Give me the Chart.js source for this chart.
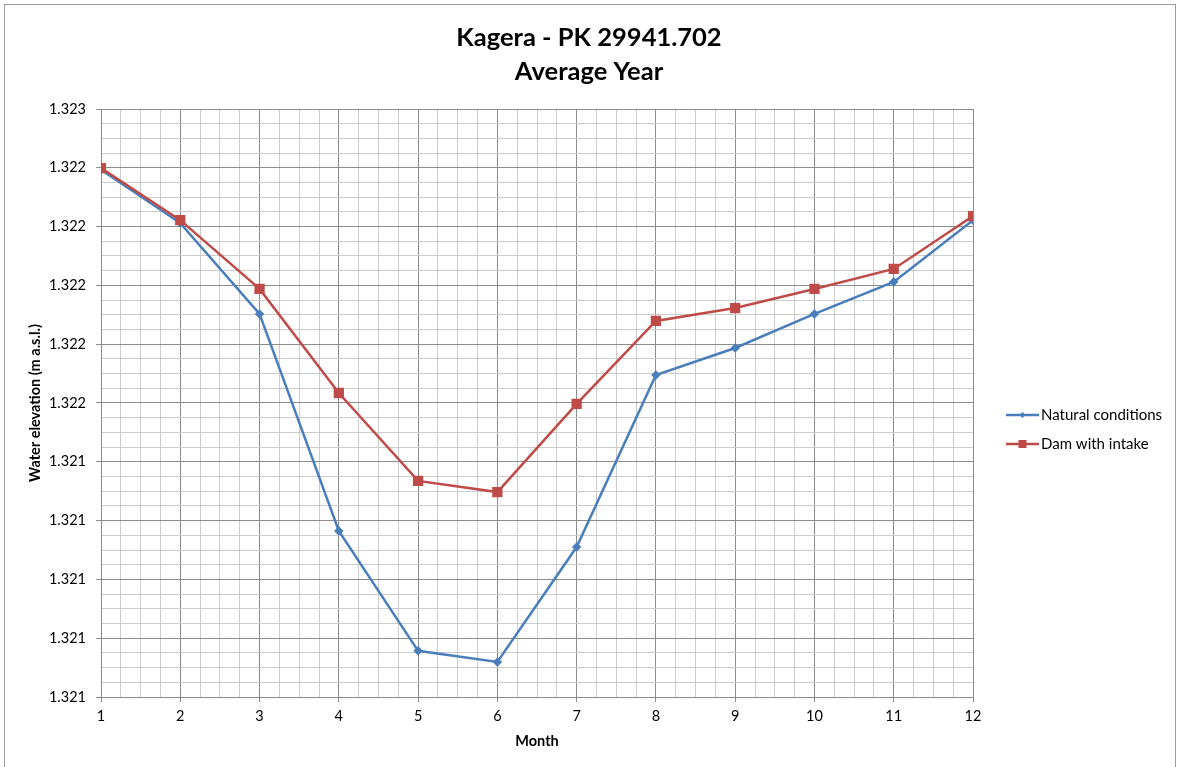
<!DOCTYPE html>
<html>
<head>
<meta charset="utf-8">
<title>Kagera - PK 29941.702</title>
<script src="https://cdn.jsdelivr.net/npm/chart.js@4.4.1/dist/chart.umd.min.js"></script>
<style>
  html, body { margin: 0; padding: 0; background: #fff; }
  #wrap { width: 1178px; height: 767px; }
</style>
</head>
<body>
<div id="wrap"><canvas id="chart" width="1178" height="767"></canvas></div>
<script>
const months = [1, 2, 3, 4, 5, 6, 7, 8, 9, 10, 11, 12];
const naturalConditions = [1.322393, 1.322212, 1.321903, 1.321165, 1.320757, 1.320719, 1.32111, 1.321695, 1.321787, 1.321903, 1.322012, 1.322222];
const damWithIntake = [1.322399, 1.322222, 1.321988, 1.321634, 1.321335, 1.321297, 1.321597, 1.321879, 1.321923, 1.321988, 1.322056, 1.322236];
const yMajorTicks = [1.3206, 1.3208, 1.321, 1.3212, 1.3214, 1.3216, 1.3218, 1.322, 1.3222, 1.3224, 1.3226];
const seriesNames = ["Natural conditions", "Dam with intake"];

const FONT = "Lato, 'Open Sans', sans-serif";
const majorGrid = "#8c8c8c";
const minorGrid = "#cccccc";

// 4 sub-divisions between each pair of major ticks (like Excel minor gridlines)
const subdivide = (majors) => {
  const out = [];
  for (let i = 0; i < majors.length - 1; i++) {
    const step = (majors[i + 1] - majors[i]) / 4;
    for (let k = 0; k < 4; k++) out.push(Math.round((majors[i] + k * step) * 1e7) / 1e7);
  }
  out.push(majors[majors.length - 1]);
  return out;
};

const gridColor = (ctx) => (ctx.index % 4 === 0 ? majorGrid : minorGrid);
const tickColor = (ctx) => (ctx.index % 4 === 0 ? majorGrid : "rgba(0,0,0,0)");

const chartFrame = {
  id: "chartFrame",
  beforeDraw(chart) {
    const ctx = chart.ctx;
    ctx.save();
    ctx.fillStyle = "#fff";
    ctx.fillRect(0, 0, chart.width, chart.height);
    ctx.strokeStyle = "#9a9a9a";
    ctx.lineWidth = 1;
    ctx.strokeRect(4.5, 4.5, 1171, 800);
    ctx.restore();
  },
};

const sideLegend = {
  id: "sideLegend",
  afterDraw(chart) {
    const ctx = chart.ctx;
    const rows = [415, 444];
    ctx.save();
    chart.data.datasets.forEach((ds, i) => {
      const y = rows[i];
      ctx.strokeStyle = ds.borderColor;
      ctx.lineWidth = 2.5;
      ctx.beginPath();
      ctx.moveTo(1006, y);
      ctx.lineTo(1039, y);
      ctx.stroke();
      ctx.fillStyle = ds.borderColor;
      if (ds.pointStyle === "rect") {
        ctx.fillRect(1022.5 - 4, y - 4, 8, 8);
      } else {
        ctx.beginPath();
        ctx.moveTo(1022.5, y - 3);
        ctx.lineTo(1025.5, y);
        ctx.lineTo(1022.5, y + 3);
        ctx.lineTo(1019.5, y);
        ctx.closePath();
        ctx.fill();
      }
      ctx.fillStyle = "#000";
      ctx.font = "15px " + FONT;
      ctx.textBaseline = "middle";
      ctx.textAlign = "left";
      ctx.fillText(ds.label, 1041, y);
    });
    ctx.restore();
  },
};

const ctx = document.getElementById("chart").getContext("2d");
new Chart(ctx, {
  type: "line",
  data: {
    datasets: [
      {
        label: seriesNames[0],
        data: months.map((m, i) => ({ x: m, y: naturalConditions[i] })),
        borderColor: "#4a7ebb",
        backgroundColor: "#4a7ebb",
        borderWidth: 2.5,
        pointStyle: "rectRot",
        pointRadius: 3,
        order: 1,
      },
      {
        label: seriesNames[1],
        data: months.map((m, i) => ({ x: m, y: damWithIntake[i] })),
        borderColor: "#be4b48",
        backgroundColor: "#be4b48",
        borderWidth: 2.5,
        pointStyle: "rect",
        pointRadius: 5.5,
        order: 0,
      },
    ],
  },
  options: {
    responsive: false,
    animation: false,
    layout: { padding: 0 },
    plugins: {
      legend: { display: false },
      tooltip: { enabled: false },
      title: {
        display: true,
        text: ["Kagera - PK 29941.702", "Average Year"],
        color: "#000",
        font: { family: FONT, size: 25.5, weight: "bold", lineHeight: 34 / 25.5 },
        padding: { top: 21, bottom: 20 },
      },
    },
    scales: {
      x: {
        type: "linear",
        min: 1,
        max: 12,
        afterBuildTicks: (scale) => {
          scale.ticks = subdivide(months).map((v) => ({ value: v }));
        },
        afterFit: (scale) => {
          scale.height = 70;
        },
        grid: { color: gridColor, tickColor: tickColor, tickLength: 5, lineWidth: 1 },
        border: { color: majorGrid },
        ticks: {
          autoSkip: false,
          maxRotation: 0,
          padding: 6,
          color: "#000",
          font: { family: FONT, size: 14.5 },
          callback: (value, index) => (index % 4 === 0 ? String(value) : ""),
        },
        title: {
          display: true,
          text: "Month",
          color: "#000",
          font: { family: FONT, size: 14.5, weight: "bold" },
          padding: { top: 0, bottom: 17 },
        },
      },
      y: {
        type: "linear",
        min: yMajorTicks[0],
        max: yMajorTicks[yMajorTicks.length - 1],
        afterBuildTicks: (scale) => {
          scale.ticks = subdivide(yMajorTicks).map((v) => ({ value: v }));
        },
        afterFit: (scale) => {
          scale.width = 101;
        },
        grid: { color: gridColor, tickColor: tickColor, tickLength: 5, lineWidth: 1 },
        border: { color: majorGrid },
        ticks: {
          autoSkip: false,
          padding: 10,
          color: "#000",
          font: { family: FONT, size: 14.5 },
          callback: (value, index) => (index % 4 === 0 ? value.toFixed(3) : ""),
        },
        title: {
          display: true,
          text: "Water elevation (m a.s.l.)",
          color: "#000",
          font: { family: FONT, size: 14.5, weight: "bold" },
          padding: { top: 27, bottom: 0 },
        },
      },
      legendSpace: {
        type: "linear",
        position: "right",
        display: true,
        grid: { display: false, drawTicks: false },
        border: { display: false },
        ticks: { display: false },
        afterFit: (scale) => {
          scale.width = 205;
        },
      },
    },
  },
  plugins: [chartFrame, sideLegend],
});
</script>
</body>
</html>
